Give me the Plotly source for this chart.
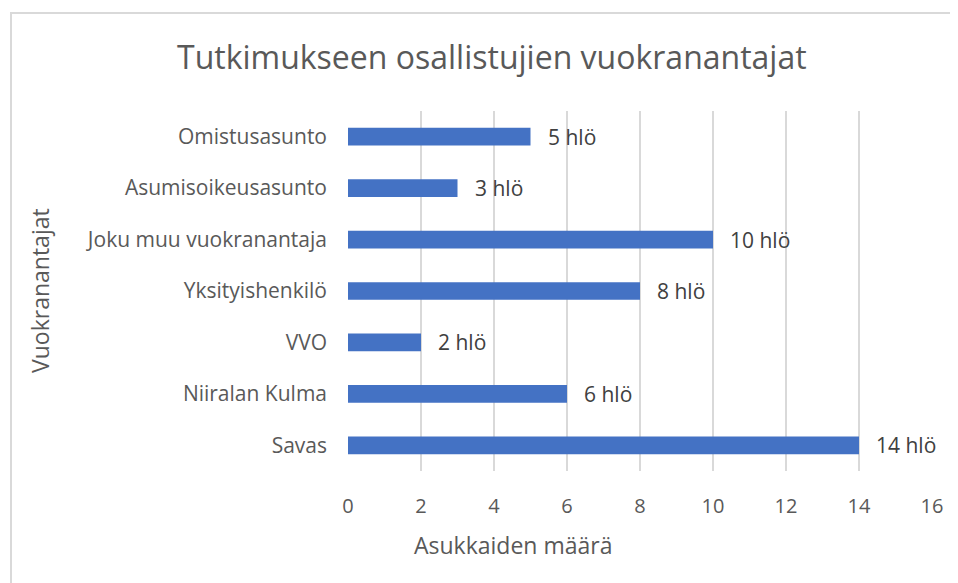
import plotly.graph_objects as go

categories = ["Savas", "Niiralan Kulma", "VVO", "Yksityishenkilö",
              "Joku muu vuokranantaja", "Asumisoikeusasunto", "Omistusasunto"]
values = [14, 6, 2, 8, 10, 3, 5]
value_labels = [f"{v} hlö" for v in values]
x_ticks = [0, 2, 4, 6, 8, 10, 12, 14, 16]

OFF = 8  # page body margin
W, H = 958 - OFF, 583 - OFF
L, T = 348 - OFF, 111 - OFF
R, B = 26, 112
pw = W - L - R
ph = H - T - B


def px(xs):  # screen x -> paper x
    return (xs - OFF - L) / pw


def py(ys):  # screen y -> paper y
    return ((H - B) - (ys - OFF)) / ph


FONT = "Open Sans"
TXT = "#595959"

fig = go.Figure(go.Bar(
    x=values, y=categories, orientation="h",
    marker=dict(color="#4472C4", line=dict(width=0)),
    hoverinfo="skip",
))

annotations = []
for c, v, t in zip(categories, values, value_labels):
    annotations.append(dict(x=v, y=c, xref="x", yref="y", text=t, showarrow=False,
                            xanchor="left", xshift=15,
                            font=dict(family=FONT, size=21, color="#404040")))

annotations.append(dict(text="Tutkimukseen osallistujien vuokranantajat",
                        xref="paper", yref="paper", x=px(491.5), y=py(56),
                        showarrow=False, xanchor="center", yanchor="middle",
                        font=dict(family=FONT, size=32, color=TXT)))
annotations.append(dict(text="Asukkaiden määrä", xref="paper", yref="paper",
                        x=px(513), y=py(545),
                        showarrow=False, xanchor="center", yanchor="middle",
                        font=dict(family=FONT, size=23, color=TXT)))
annotations.append(dict(text="Vuokranantajat", xref="paper", yref="paper",
                        x=px(40), y=py(291), textangle=-90,
                        showarrow=False, xanchor="center", yanchor="middle",
                        font=dict(family=FONT, size=23, color=TXT)))

fig.update_layout(
    width=W, height=H,
    margin=dict(l=L, r=R, t=T, b=B),
    paper_bgcolor="white", plot_bgcolor="white",
    showlegend=False,
    bargap=0.656,
    annotations=annotations,
    shapes=[dict(type="rect", xref="paper", yref="paper",
                 x0=px(11), x1=px(1000), y0=py(640), y1=py(13),
                 line=dict(color="#d9d9d9", width=2), layer="below")],
    xaxis=dict(range=[0, 16], tickvals=x_ticks, showgrid=True,
               gridcolor="#d9d9d9", gridwidth=1.5, zeroline=False,
               showline=False, ticks="", ticklabelstandoff=21,
               tickfont=dict(family=FONT, size=20, color=TXT), fixedrange=True),
    yaxis=dict(showgrid=False, zeroline=False, showline=False, ticks="",
               ticklabelstandoff=20,
               tickfont=dict(family=FONT, size=21, color=TXT), fixedrange=True),
)

fig.write_html("out.html")
